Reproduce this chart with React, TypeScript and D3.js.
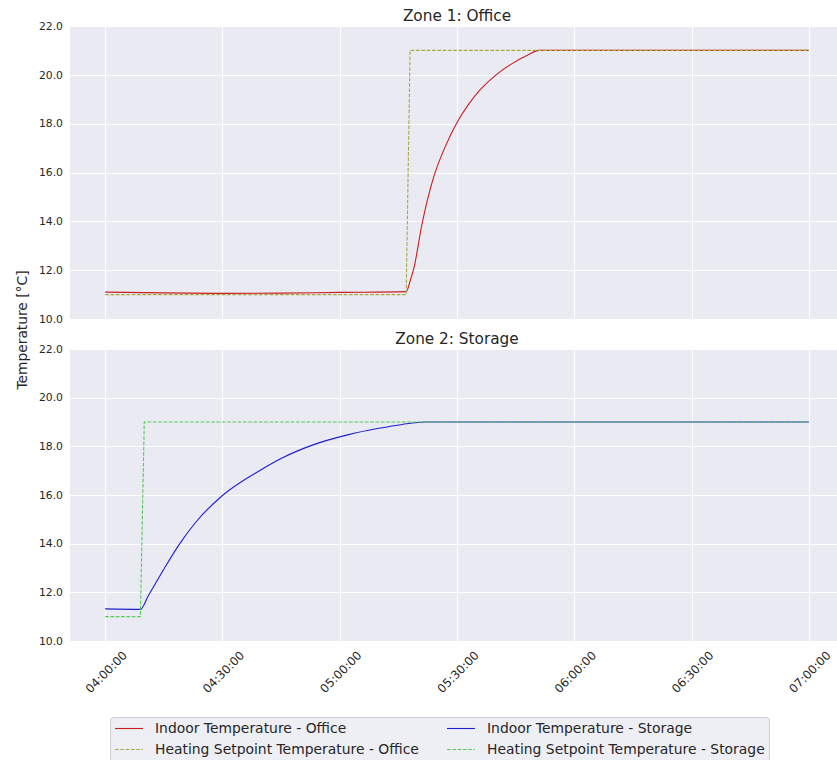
import * as d3 from 'd3';
import React, { useRef, useEffect } from 'react';

// --------------------------------------------------------
// data (minutes after 04:00)
// --------------------------------------------------------
const officeIndoorMin = [0, 15, 30, 45, 60, 77, 78, 79, 81, 84, 87, 90, 93, 96, 100, 104, 108, 111, 180];
const officeIndoorTemp = [11.1, 11.07, 11.05, 11.06, 11.09, 11.12, 11.55, 12.1, 13.85, 15.8, 17.06, 18.05, 18.8, 19.4, 20.0, 20.45, 20.8, 21.0, 21.0];

const officeSetMin = [0, 77, 78, 180];
const officeSetTemp = [11, 11, 21, 21];

const storageIndoorMin = [0, 9, 11, 15, 19, 23, 30, 40, 45, 53, 62, 70, 76, 82, 180];
const storageIndoorTemp = [11.32, 11.3, 11.85, 12.95, 13.98, 14.85, 15.98, 17.05, 17.5, 18.05, 18.47, 18.74, 18.9, 19.0, 19.0];

const storageSetMin = [0, 9, 10, 180];
const storageSetTemp = [11, 11, 19, 19];

const yTicks = [10, 12, 14, 16, 18, 20, 22];
const xTickMin = [0, 30, 60, 90, 120, 150, 180];

const legendLabels = [
  'Indoor Temperature - Office',
  'Heating Setpoint Temperature - Office',
  'Indoor Temperature - Storage',
  'Heating Setpoint Temperature - Storage'
];

const FONT = '"DejaVu Sans", sans-serif';
const TXT = '#262626';
const BG = '#eaeaf2';

const start = new Date(2024, 0, 1, 4, 0, 0);
const toDate = (m: number) => new Date(start.getTime() + m * 60000);
const pts = (ms: number[], vs: number[]) => ms.map((m, i) => [toDate(m), vs[i]] as [Date, number]);

// series: data, colour, dashed?
const series = [
  { panel: 0, data: pts(officeIndoorMin, officeIndoorTemp), color: '#c81e1e', dash: null, curve: d3.curveMonotoneX },
  { panel: 0, data: pts(officeSetMin, officeSetTemp), color: '#a8a845', dash: '3.7,1.6', curve: d3.curveLinear },
  { panel: 1, data: pts(storageIndoorMin, storageIndoorTemp), color: '#1e1ed2', dash: null, curve: d3.curveMonotoneX },
  { panel: 1, data: pts(storageSetMin, storageSetTemp), color: '#55cc55', dash: '3.7,1.6', curve: d3.curveLinear }
];

const W = 837;
const H = 760;
const left = 70;
const right = 844;
const panels = [
  { top: 26, bottom: 319, title: 'Zone 1: Office' },
  { top: 349, bottom: 641, title: 'Zone 2: Storage' }
];

function App() {
  const svgRef = useRef<SVGSVGElement>(null);

  useEffect(() => {
    const svg = d3.select(svgRef.current);
    svg.selectAll('*').remove();

    // 5% margins either side like matplotlib
    const x = d3.scaleTime().domain([toDate(-9), toDate(189)]).range([left, right]);

    panels.forEach((p, pi) => {
      const y = d3.scaleLinear().domain([10, 22]).range([p.bottom, p.top]);
      const g = svg.append('g');

      g.append('rect')
        .attr('x', left).attr('y', p.top)
        .attr('width', right - left).attr('height', p.bottom - p.top)
        .attr('fill', BG);

      // grid
      g.selectAll('.hg').data(yTicks).enter().append('line')
        .attr('x1', left).attr('x2', right)
        .attr('y1', d => Math.round(y(d)) + 0.5).attr('y2', d => Math.round(y(d)) + 0.5)
        .attr('stroke', '#fff').attr('stroke-width', 1);
      g.selectAll('.vg').data(xTickMin).enter().append('line')
        .attr('y1', p.top).attr('y2', p.bottom)
        .attr('x1', d => Math.round(x(toDate(d))) + 0.5).attr('x2', d => Math.round(x(toDate(d))) + 0.5)
        .attr('stroke', '#fff').attr('stroke-width', 1);

      // y tick labels
      g.selectAll('.yt').data(yTicks).enter().append('text')
        .attr('x', 63).attr('y', d => y(d))
        .attr('dy', '0.35em')
        .attr('text-anchor', 'end')
        .attr('font-family', FONT).attr('font-size', 10.8).attr('fill', TXT)
        .text(d => d3.format('.1f')(d));

      // title
      g.append('text')
        .attr('x', (left + right) / 2).attr('y', p.top - 5)
        .attr('text-anchor', 'middle')
        .attr('font-family', FONT).attr('font-size', 15.3).attr('fill', TXT)
        .text(p.title);

      // lines
      series.filter(s => s.panel === pi).forEach(s => {
        const line = d3.line<[Date, number]>()
          .x(d => x(d[0]))
          .y(d => y(d[1]))
          .curve(s.curve);
        g.append('path')
          .attr('d', line(s.data))
          .attr('fill', 'none')
          .attr('stroke', s.color)
          .attr('stroke-width', 1.1)
          .attr('stroke-dasharray', s.dash);
      });
    });

    // x tick labels, rotated 45 and centred on the tick
    const fmt = d3.timeFormat('%H:%M:%S');
    svg.selectAll('.xt').data(xTickMin).enter().append('text')
      .attr('transform', d => `translate(${x(toDate(d)) + 1},672) rotate(-45)`)
      .attr('text-anchor', 'middle')
      .attr('dy', '0.35em')
      .attr('font-family', FONT).attr('font-size', 11.8).attr('fill', TXT)
      .text(d => fmt(toDate(d)));

    // y label
    svg.append('text')
      .attr('transform', 'translate(22,330) rotate(-90)')
      .attr('text-anchor', 'middle')
      .attr('dy', '0.35em')
      .attr('font-family', FONT).attr('font-size', 13.8).attr('fill', TXT)
      .text('Temperature [°C]');

    // legend, two columns
    const lg = svg.append('g');
    lg.append('rect')
      .attr('x', 110.5).attr('y', 717.5)
      .attr('width', 659).attr('height', 60)
      .attr('rx', 3)
      .attr('fill', '#eeeef5').attr('stroke', '#cfcfd6');
    const colX = [115, 447];
    const rowY = [728.5, 749.5];
    series.forEach((s, i) => {
      const cx = colX[Math.floor(i / 2)];
      const cy = rowY[i % 2];
      lg.append('line')
        .attr('x1', cx).attr('x2', cx + 28)
        .attr('y1', cy).attr('y2', cy)
        .attr('stroke', s.color).attr('stroke-width', 1.1)
        .attr('stroke-dasharray', s.dash);
      lg.append('text')
        .attr('x', cx + 40).attr('y', cy)
        .attr('dy', '0.35em')
        .attr('font-family', FONT).attr('font-size', 13.9).attr('fill', TXT)
        .text(legendLabels[i]);
    });
  });

  return (
    <svg ref={svgRef} width={W} height={H}
      style={{ position: 'absolute', left: 0, top: 0, background: '#fff' }} />
  );
}

export default App;
